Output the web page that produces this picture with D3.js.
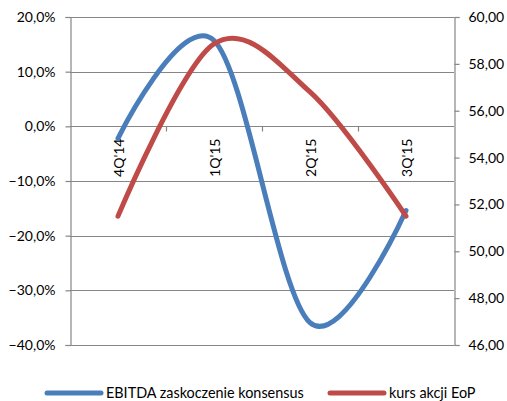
<!DOCTYPE html>
<html>
<head>
<meta charset="utf-8">
<script src="https://cdn.jsdelivr.net/npm/d3@7"></script>
<style>
  body { margin: 0; background: #fff; }
  text { font-family: Lato, "Open Sans", sans-serif; fill: #000; }
</style>
</head>
<body>
<div id="chart"></div>
<script>
// Data
const quarters = ["4Q'14", "1Q'15", "2Q'15", "3Q'15"];
const ebitdaSurprise = [-0.022, 0.157, -0.359, -0.154];
const sharePrice = [51.5, 58.85, 56.8, 51.5];
const leftTicks = [0.2, 0.1, 0, -0.1, -0.2, -0.3, -0.4];
const rightTicks = [60, 58, 56, 54, 52, 50, 48, 46];
const seriesNames = ["EBITDA zaskoczenie konsensus", "kurs akcji EoP"];

const width = 507, height = 401;
const margin = { top: 17, right: 53, bottom: 56, left: 70 };
const blue = "#4a7ebb", red = "#be4b48", grey = "#868686";

const svg = d3.select("#chart").append("svg")
  .attr("width", width)
  .attr("height", height);

const x = d3.scalePoint()
  .domain(quarters)
  .range([margin.left, width - margin.right])
  .padding(0.5);

const yLeft = d3.scaleLinear()
  .domain([-0.4, 0.2])
  .range([height - margin.bottom, margin.top]);

const yRight = d3.scaleLinear()
  .domain([46, 60])
  .range([height - margin.bottom, margin.top]);

const fmtPct = d => d3.format(".1f")(d * 100).replace(".", ",") + "%";
const fmtNum = d => d3.format(".2f")(d).replace(".", ",");

// Gridlines
svg.append("g")
  .selectAll("line")
  .data(leftTicks)
  .join("line")
  .attr("x1", margin.left)
  .attr("x2", width - margin.right)
  .attr("y1", d => Math.round(yLeft(d)) + 0.5)
  .attr("y2", d => Math.round(yLeft(d)) + 0.5)
  .attr("stroke", grey)
  .attr("stroke-width", 1.2);

// Left axis
const leftAxis = svg.append("g")
  .attr("transform", `translate(${margin.left + 0.5},0)`)
  .call(d3.axisLeft(yLeft).tickValues(leftTicks).tickFormat(fmtPct).tickSize(5).tickPadding(10));
leftAxis.select(".domain").attr("stroke", grey).attr("stroke-width", 1.2);
leftAxis.selectAll(".tick line").attr("stroke", grey).attr("stroke-width", 1.2);
leftAxis.selectAll("text").attr("font-size", 14).attr("font-family", "Lato, sans-serif").attr("fill", "#000");

// Right axis
const rightAxis = svg.append("g")
  .attr("transform", `translate(${width - margin.right + 0.5},0)`)
  .call(d3.axisRight(yRight).tickValues(rightTicks).tickFormat(fmtNum).tickSize(5).tickPadding(9));
rightAxis.select(".domain").attr("stroke", grey).attr("stroke-width", 1.2);
rightAxis.selectAll(".tick line").attr("stroke", grey).attr("stroke-width", 1.2);
rightAxis.selectAll("text").attr("font-size", 14).attr("font-family", "Lato, sans-serif").attr("fill", "#000");

// Category axis at 0%
const step = x.step();
const zeroY = Math.round(yLeft(0)) + 0.5;
svg.append("g")
  .selectAll("line")
  .data(quarters.slice(1))
  .join("line")
  .attr("x1", d => Math.round(x(d) - step / 2) + 0.5)
  .attr("x2", d => Math.round(x(d) - step / 2) + 0.5)
  .attr("y1", zeroY)
  .attr("y2", zeroY + 5)
  .attr("stroke", grey)
  .attr("stroke-width", 1.2);

svg.append("g")
  .selectAll("text")
  .data(quarters)
  .join("text")
  .attr("transform", d => `translate(${x(d) + 6},${zeroY + 12}) rotate(-90)`)
  .attr("text-anchor", "end")
  .attr("font-size", 14)
  .text(d => d);

// Lines
const curve = d3.curveCardinal.tension(0);

svg.append("path")
  .datum(ebitdaSurprise)
  .attr("fill", "none")
  .attr("stroke", blue)
  .attr("stroke-width", 5)
  .attr("stroke-linecap", "round")
  .attr("d", d3.line().curve(curve).x((d, i) => x(quarters[i])).y(d => yLeft(d)));

svg.append("path")
  .datum(sharePrice)
  .attr("fill", "none")
  .attr("stroke", red)
  .attr("stroke-width", 5)
  .attr("stroke-linecap", "round")
  .attr("d", d3.line().curve(curve).x((d, i) => x(quarters[i])).y(d => yRight(d)));

// Legend
const legend = [
  { name: seriesNames[0], color: blue, x: 47 },
  { name: seriesNames[1], color: red, x: 330 }
];
const lg = svg.append("g").selectAll("g").data(legend).join("g")
  .attr("transform", d => `translate(${d.x},393)`);
lg.append("line")
  .attr("x1", 0).attr("x2", 54)
  .attr("stroke", d => d.color)
  .attr("stroke-width", 5)
  .attr("stroke-linecap", "round");
lg.append("text")
  .attr("x", 59)
  .attr("y", 5)
  .attr("font-size", 14.4)
  .text(d => d.name);
</script>
</body>
</html>
